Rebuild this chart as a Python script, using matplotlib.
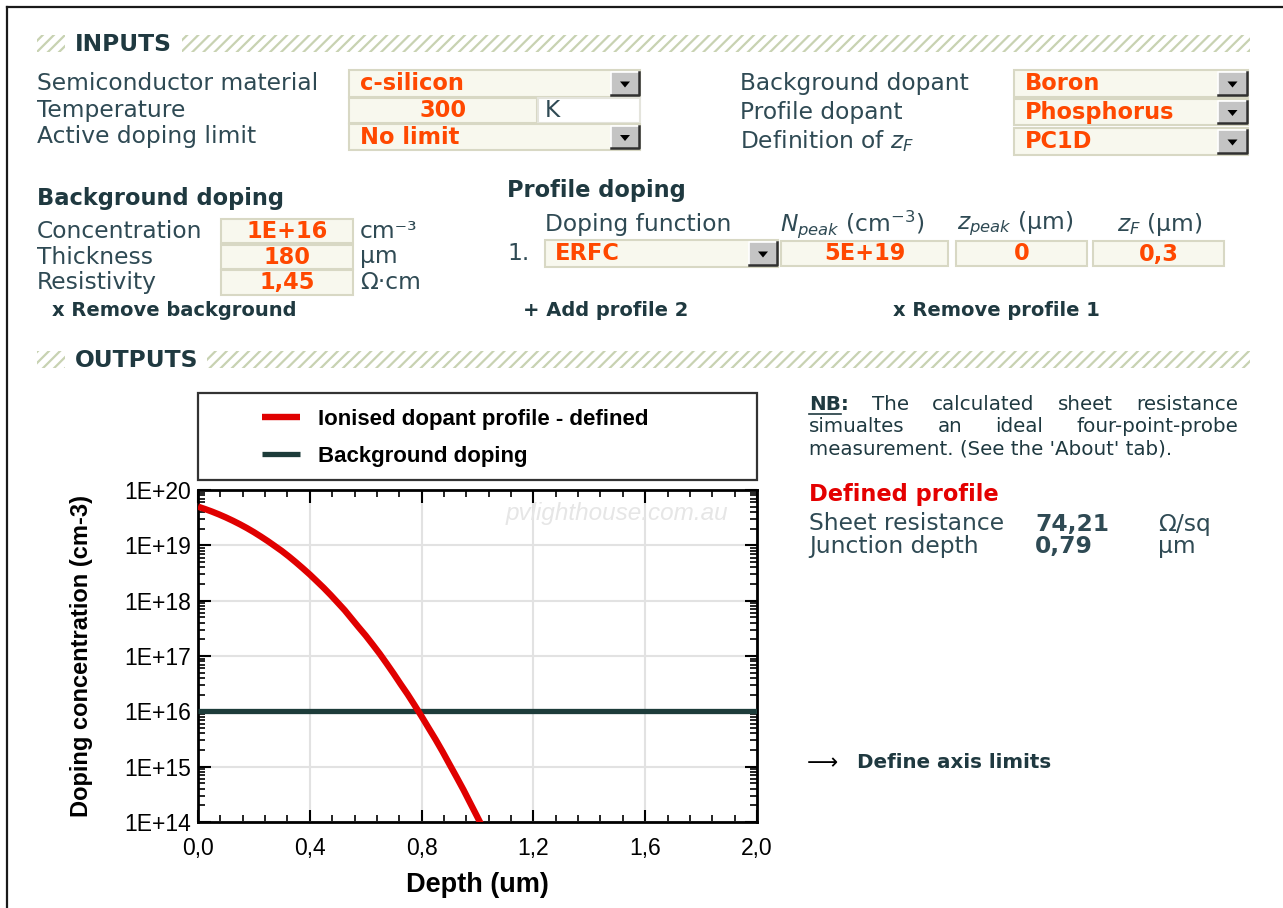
import numpy as np
import matplotlib
matplotlib.use('Agg')
import matplotlib.pyplot as plt
from matplotlib.patches import Rectangle, Polygon
from matplotlib.ticker import MultipleLocator, LogLocator, NullFormatter

# ---- chart data ----
depth_um = [0.000, 0.025, 0.050, 0.075, 0.100, 0.125, 0.150, 0.175, 0.200, 0.225,
            0.250, 0.275, 0.300, 0.325, 0.350, 0.375, 0.400, 0.425, 0.450, 0.475,
            0.500, 0.525, 0.550, 0.575, 0.600, 0.625, 0.650, 0.675, 0.700, 0.725,
            0.750, 0.775, 0.800, 0.825, 0.850, 0.875, 0.900, 0.925, 0.950, 0.975,
            1.000, 1.025]
ionised_conc = [5.0e19, 4.53e19, 4.07e19, 3.62e19, 3.19e19, 2.78e19, 2.40e19, 2.05e19,
                1.73e19, 1.44e19, 1.19e19, 9.7e18, 7.9e18, 6.3e18, 4.95e18, 3.85e18,
                2.97e18, 2.25e18, 1.70e18, 1.26e18, 9.2e17, 6.7e17, 4.7e17, 3.3e17,
                2.34e17, 1.61e17, 1.10e17, 7.3e16, 4.8e16, 3.1e16, 2.03e16, 1.29e16,
                8.1e15, 5.0e15, 3.1e15, 1.87e15, 1.10e15, 6.5e14, 3.8e14, 2.15e14,
                1.22e14, 6.9e13]
bg_depth = [0.0, 2.0]
bg_conc = [1e16, 1e16]
series_names = ['Ionised dopant profile - defined', 'Background doping']

ytick_vals = [1e14, 1e15, 1e16, 1e17, 1e18, 1e19, 1e20]
ytick_labels = ['1E+14', '1E+15', '1E+16', '1E+17', '1E+18', '1E+19', '1E+20']
xtick_vals = [0.0, 0.4, 0.8, 1.2, 1.6, 2.0]
xtick_labels = ['0,0', '0,4', '0,8', '1,2', '1,6', '2,0']

# ---- form contents ----
inputs_left = ['Semiconductor material', 'Temperature', 'Active doping limit']
inputs_left_vals = ['c-silicon', '300', 'No limit']
inputs_right = ['Background dopant', 'Profile dopant', 'Definition of $z_F$']
inputs_right_vals = ['Boron', 'Phosphorus', 'PC1D']
bg_labels = ['Concentration', 'Thickness', 'Resistivity']
bg_vals = ['1E+16', '180', '1,45']
bg_units = ['cm⁻³', 'μm', 'Ω·cm']
profile_headers = ['Doping function', '$N_{peak}$ (cm$^{-3}$)', '$z_{peak}$ (μm)', '$z_F$ (μm)']
profile_vals = ['ERFC', '5E+19', '0', '0,3']
result_labels = ['Sheet resistance', 'Junction depth']
result_vals = ['74,21', '0,79']
result_units = ['Ω/sq', 'μm']

plt.rcParams['font.family'] = ['DejaVu Sans']
plt.rcParams['hatch.linewidth'] = 1.6

LBL = '#2f4a54'
ORG = '#ff4800'
HDR = '#1f3940'
BOXF = '#f8f8ee'
BOXE = '#d8d8c4'
S = 1.12  # text size factor

fig = plt.figure(figsize=(12.83, 9.08), dpi=100)
o = fig.add_axes([0, 0, 1, 1])
o.set_xlim(0, 1283)
o.set_ylim(908, 0)
o.axis('off')


def t(x, y, s, size=15, color=LBL, weight='normal', ha='left', **kw):
    return o.text(x, y, s, fontsize=size * S, color=color, fontweight=weight,
                  ha=ha, va='center', **kw)


def box(x0, y0, x1, y1, fc=BOXF, ec=BOXE):
    o.add_patch(Rectangle((x0, y0), x1 - x0, y1 - y0, fc=fc, ec=ec, lw=1.5))


def arrow_btn(x0, y0, x1, y1):
    o.add_patch(Rectangle((x0, y0), x1 - x0, y1 - y0, fc='#c4c4c4', ec='none'))
    o.plot([x0, x0, x1], [y1, y0, y0], color='white', lw=1.2)
    o.plot([x0, x1, x1], [y1, y1, y0], color='#303030', lw=1.8)
    cx, cy = (x0 + x1) / 2, (y0 + y1) / 2 + 1
    o.add_patch(Polygon([[cx - 5, cy - 3], [cx + 5, cy - 3], [cx, cy + 3]],
                        closed=True, fc='black', ec='none'))


def hatch_bar(x0, x1, y0, y1, label, gap1):
    o.add_patch(Rectangle((x0, y0), x1 - x0, y1 - y0, fill=False, hatch='///',
                          edgecolor='#c8d2b2', lw=0))
    o.add_patch(Rectangle((65, y0 - 1), gap1 - 65, y1 - y0 + 2, fc='white', ec='none'))
    t(75, (y0 + y1) / 2 + 1, label, size=15, color=HDR, weight='bold')


# outer frame (top and left edges only)
o.plot([7, 1283], [7, 7], color='#1a1a1a', lw=1.6)
o.plot([7, 7], [7, 908], color='#1a1a1a', lw=1.6)

# ---- INPUTS ----
hatch_bar(37, 1250, 35, 52, 'INPUTS', 182)

rows_y = [(70, 97), (98, 123), (124, 150)]
for i, (lab, val) in enumerate(zip(inputs_left, inputs_left_vals)):
    y0, y1 = rows_y[i]
    t(37, (y0 + y1) / 2, lab)
    if i == 1:
        box(349, y0, 537, y1)
        t(443, (y0 + y1) / 2, val, size=14.5, color=ORG, weight='bold', ha='center')
        box(538, y0, 640, y1, fc='white', ec='#e4e4dc')
        t(545, (y0 + y1) / 2, 'K')
    else:
        box(349, y0, 640, y1)
        t(360, (y0 + y1) / 2, val, size=14.5, color=ORG, weight='bold')
        arrow_btn(611, y0 + 2, 639, y1 - 2)

rows_y2 = [(70, 97), (99, 125), (128, 155)]
for i, (lab, val) in enumerate(zip(inputs_right, inputs_right_vals)):
    y0, y1 = rows_y2[i]
    t(740, (y0 + y1) / 2, lab)
    box(1014, y0, 1248, y1)
    t(1025, (y0 + y1) / 2, val, size=14.5, color=ORG, weight='bold')
    arrow_btn(1218, y0 + 2, 1247, y1 - 2)

# ---- background doping ----
t(37, 199, 'Background doping', size=14.5, color=HDR, weight='bold')
rows_y3 = [(219, 243), (245, 269), (270, 295)]
for i in range(3):
    y0, y1 = rows_y3[i]
    t(37, (y0 + y1) / 2, bg_labels[i])
    box(221, y0, 353, y1)
    t(287, (y0 + y1) / 2, bg_vals[i], size=14.5, color=ORG, weight='bold', ha='center')
    t(360, (y0 + y1) / 2, bg_units[i])
t(52, 310, 'x Remove background', size=12.5, color=HDR, weight='bold')

# ---- profile doping ----
t(507, 190, 'Profile doping', size=14.5, color=HDR, weight='bold')
hdr_x = [545, 780, 957, 1117]
for x, h in zip(hdr_x, profile_headers):
    t(x, 224, h)
t(507, 254, '1.')
box(545, 240, 778, 267)
t(555, 254, profile_vals[0], size=14.5, color=ORG, weight='bold')
arrow_btn(749, 242, 777, 265)
cells = [(781, 948), (956, 1087), (1093, 1224)]
for (x0, x1), v in zip(cells, profile_vals[1:]):
    box(x0, 241, x1, 266)
    t((x0 + x1) / 2, 254, v, size=14.5, color=ORG, weight='bold', ha='center')
t(523, 310, '+ Add profile 2', size=12.5, color=HDR, weight='bold')
t(893, 310, 'x Remove profile 1', size=12.5, color=HDR, weight='bold')

# ---- OUTPUTS ----
hatch_bar(37, 1250, 351, 368, 'OUTPUTS', 207)

# NB note, justified like the page
renderer = fig.canvas.get_renderer()
NBS = 12.8


def justify(words, x0, x1, y, bold_first=False):
    objs = []
    for k, w in enumerate(words):
        wt = 'bold' if (bold_first and k == 0) else 'normal'
        objs.append(t(x0, y, w, size=NBS, color=HDR, weight=wt))
    widths = [ob.get_window_extent(renderer).width for ob in objs]
    gap = (x1 - x0 - sum(widths)) / (len(words) - 1)
    x = x0
    for ob, w in zip(objs, widths):
        ob.set_x(x)
        x += w + gap
    return objs, widths


nb, nbw = justify(['NB:', 'The', 'calculated', 'sheet', 'resistance'], 809, 1238, 405, True)
tmp = t(0, 0, ':', size=NBS, weight='bold')
colon_w = tmp.get_window_extent(renderer).width
tmp.remove()
o.plot([809, 809 + nbw[0] - colon_w], [414, 414], color=HDR, lw=1.2)
justify(['simualtes', 'an', 'ideal', 'four-point-probe'], 809, 1238, 427)
t(809, 449, "measurement. (See the 'About' tab).", size=NBS, color=HDR)

t(809, 494, 'Defined profile', size=14.5, color='#e40000', weight='bold')
for i, y in enumerate([524, 547]):
    t(809, y, result_labels[i], size=15)
    t(1035, y, result_vals[i], size=15, weight='bold')
    t(1158, y, result_units[i], size=15)

t(807, 763, '⟶', size=14, color='black')
t(857, 763, 'Define axis limits', size=12.8, color=HDR, weight='bold')

# ---- chart ----
W, H = 1283, 908
ax = fig.add_axes([198 / W, 1 - 822 / H, (757 - 198) / W, (822 - 490) / H])
ax.plot(bg_depth, bg_conc, color='#1d3c3a', lw=3.8, solid_capstyle='butt',
        label=series_names[1], zorder=3)
ax.plot(depth_um, ionised_conc, color='#e00000', lw=4.6, solid_capstyle='butt',
        label=series_names[0], zorder=4)
ax.set_yscale('log')
ax.set_xlim(0, 2.0)
ax.set_ylim(1e14, 1e20)
ax.set_yticks(ytick_vals, ytick_labels, fontfamily='Liberation Sans', fontsize=16.5)
ax.set_xticks(xtick_vals, xtick_labels, fontfamily='Liberation Sans', fontsize=16.5)
ax.xaxis.set_minor_locator(MultipleLocator(0.08))
ax.yaxis.set_minor_locator(LogLocator(base=10, subs=np.arange(2, 10)))
ax.yaxis.set_minor_formatter(NullFormatter())
ax.tick_params(which='major', direction='in', length=9, width=1.5,
               top=True, right=True, colors='black')
ax.tick_params(axis='x', which='major', pad=11)
ax.tick_params(axis='y', which='major', pad=5)
ax.tick_params(which='minor', direction='in', length=5, width=1.2, top=True, right=True)
ax.grid(which='major', color='#e2e2e2', lw=1.5)
ax.set_axisbelow(True)
for sp in ax.spines.values():
    sp.set_linewidth(2)
    sp.set_color('black')
ax.set_ylabel('Doping concentration (cm-3)', fontsize=17, fontweight='bold',
              fontfamily='Liberation Sans')
ax.yaxis.set_label_coords(-0.188, 0.5)
ax.set_xlabel('Depth (um)', fontsize=19.5, fontweight='bold', fontfamily='Liberation Sans')
ax.xaxis.set_label_coords(0.5, -0.15)
ax.text(0.948, 0.928, 'pvlighthouse.com.au', transform=ax.transAxes, ha='right', va='center',
        fontsize=17.5, style='italic', color='#e6e6e6', fontfamily='Liberation Sans', zorder=1)

# legend box above the plot
o.add_patch(Rectangle((198, 393), 559, 87, fill=False, ec='#333333', lw=1.6))
handles, labels = ax.get_legend_handles_labels()
order = [1, 0]
ax.legend([handles[k] for k in order], [labels[k] for k in order],
          loc='upper left', bbox_to_anchor=(262 / W, 1 - 409 / H), bbox_transform=fig.transFigure,
          frameon=False, borderpad=0, borderaxespad=0, handlelength=1.72, handletextpad=0.82,
          labelspacing=0.7, prop={'family': 'Liberation Sans', 'weight': 'bold', 'size': 16})

fig.savefig('out.png', dpi=100)
